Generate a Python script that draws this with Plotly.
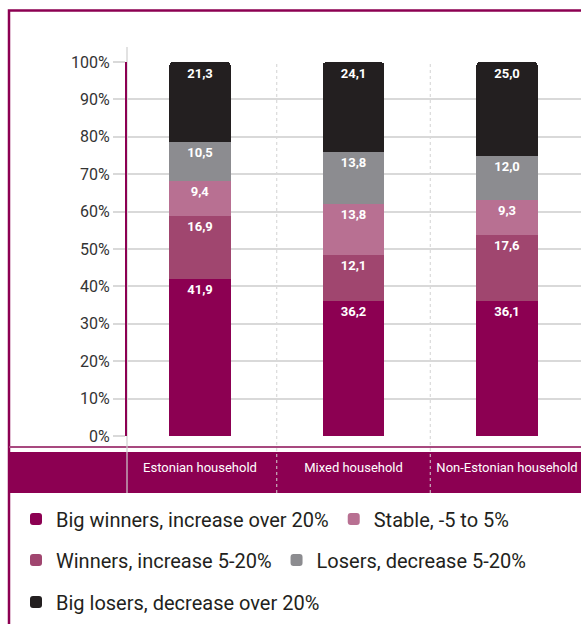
import plotly.graph_objects as go

categories = ["Estonian household", "Mixed household", "Non-Estonian household"]
series_names = [
    "Big winners, increase over 20%",
    "Winners, increase 5-20%",
    "Stable, -5 to 5%",
    "Losers, decrease 5-20%",
    "Big losers, decrease over 20%",
]
big_winners = [41.9, 36.2, 36.1]
winners = [16.9, 12.1, 17.6]
stable = [9.4, 13.8, 9.3]
losers = [10.5, 13.8, 12.0]
big_losers = [21.3, 24.1, 25.0]
y_ticks = [0, 10, 20, 30, 40, 50, 60, 70, 80, 90, 100]
y_tick_labels = ["0%", "10%", "20%", "30%", "40%", "50%", "60%", "70%", "80%", "90%", "100%"]

colors = ["#8c0052", "#a0466f", "#b87092", "#8c8c90", "#231f20"]
legend_ids = ["legend", "legend2", "legend", "legend2", "legend3"]
values = [big_winners, winners, stable, losers, big_losers]

FONT = "Roboto"
MAG = "#8c0052"

W, H = 581, 624
PLOT_L, PLOT_T, PLOT_B = 127, 62, 436
ML, MR, MT, MB = PLOT_L, 0, PLOT_T, H - PLOT_B
PW = W - ML - MR
PH = H - MT - MB


def px_x(px):
    return (px - ML) / PW


def px_y(py):
    return (PLOT_B - py) / PH


fig = go.Figure()
for name, vals, col, lg in zip(series_names, values, colors, legend_ids):
    fig.add_trace(go.Bar(
        x=categories, y=vals, name=name, marker=dict(color=col, line=dict(width=0)),
        width=0.4, texttemplate="%{y:.1f}", textposition="inside",
        insidetextanchor="end", textangle=0, constraintext="none",
        textfont=dict(color="white", size=13, family=FONT, weight=700),
        legend=lg, hoverinfo="skip",
    ))

shapes = []
# outer frame
shapes.append(dict(type="rect", xref="paper", yref="paper",
                   x0=px_x(9), x1=px_x(620), y0=px_y(660), y1=px_y(10.5),
                   line=dict(color=MAG, width=2.5), fillcolor="rgba(0,0,0,0)", layer="below"))
# category band
shapes.append(dict(type="rect", xref="paper", yref="paper",
                   x0=px_x(9), x1=px_x(600), y0=px_y(493), y1=px_y(452),
                   line=dict(width=0), fillcolor=MAG, layer="below"))
# thin line above band
shapes.append(dict(type="line", xref="paper", yref="paper",
                   x0=px_x(9), x1=px_x(600), y0=px_y(447), y1=px_y(447),
                   line=dict(color="#a8497f", width=2), layer="below"))
# gray vertical at axis
shapes.append(dict(type="line", xref="paper", yref="paper",
                   x0=0, x1=0, y0=px_y(493), y1=px_y(47),
                   line=dict(color="#cfcfcf", width=1.2), layer="below"))
# dotted separators between categories
for xs in [0.5, 1.5]:
    shapes.append(dict(type="line", xref="x", yref="paper",
                       x0=xs, x1=xs, y0=px_y(493), y1=1.0,
                       line=dict(color="#d2d2d2", width=1, dash="dot"), layer="below"))

legend_style = dict(orientation="h", xanchor="left", yanchor="middle", traceorder="normal",
                    font=dict(size=20, family=FONT, color="#231f20"),
                    bgcolor="rgba(0,0,0,0)", itemclick=False, itemdoubleclick=False)

fig.update_layout(
    width=W, height=H,
    margin=dict(l=ML, r=MR, t=MT, b=MB),
    barmode="stack", barcornerradius=4,
    separators=",.",
    paper_bgcolor="white", plot_bgcolor="white",
    font=dict(family=FONT, color="#333333"),
    shapes=shapes,
    xaxis=dict(
        range=[-0.4756, 2.482], showgrid=False, zeroline=False, showline=False,
        ticks="", ticklabelstandoff=22,
        tickfont=dict(color="white", size=13, family=FONT),
        fixedrange=True,
    ),
    yaxis=dict(
        range=[0, 100], tickvals=y_ticks, ticktext=y_tick_labels,
        showgrid=True, gridcolor="#d9d9d9", gridwidth=1.5,
        zeroline=False, showline=True, linecolor=MAG, linewidth=2,
        ticks="outside", ticklen=12, tickcolor="#d9d9d9", tickwidth=1.5,
        tickfont=dict(color="#333333", size=16, family=FONT),
        fixedrange=True,
    ),
    legend=dict(x=px_x(16), y=px_y(519), **legend_style),
    legend2=dict(x=px_x(16), y=px_y(560), **legend_style),
    legend3=dict(x=px_x(16), y=px_y(602), **legend_style),
)

fig.write_html(
    "out.html",
    config={"displayModeBar": False},
    post_script="document.body.style.margin='0';document.body.style.overflow='hidden';",
)
